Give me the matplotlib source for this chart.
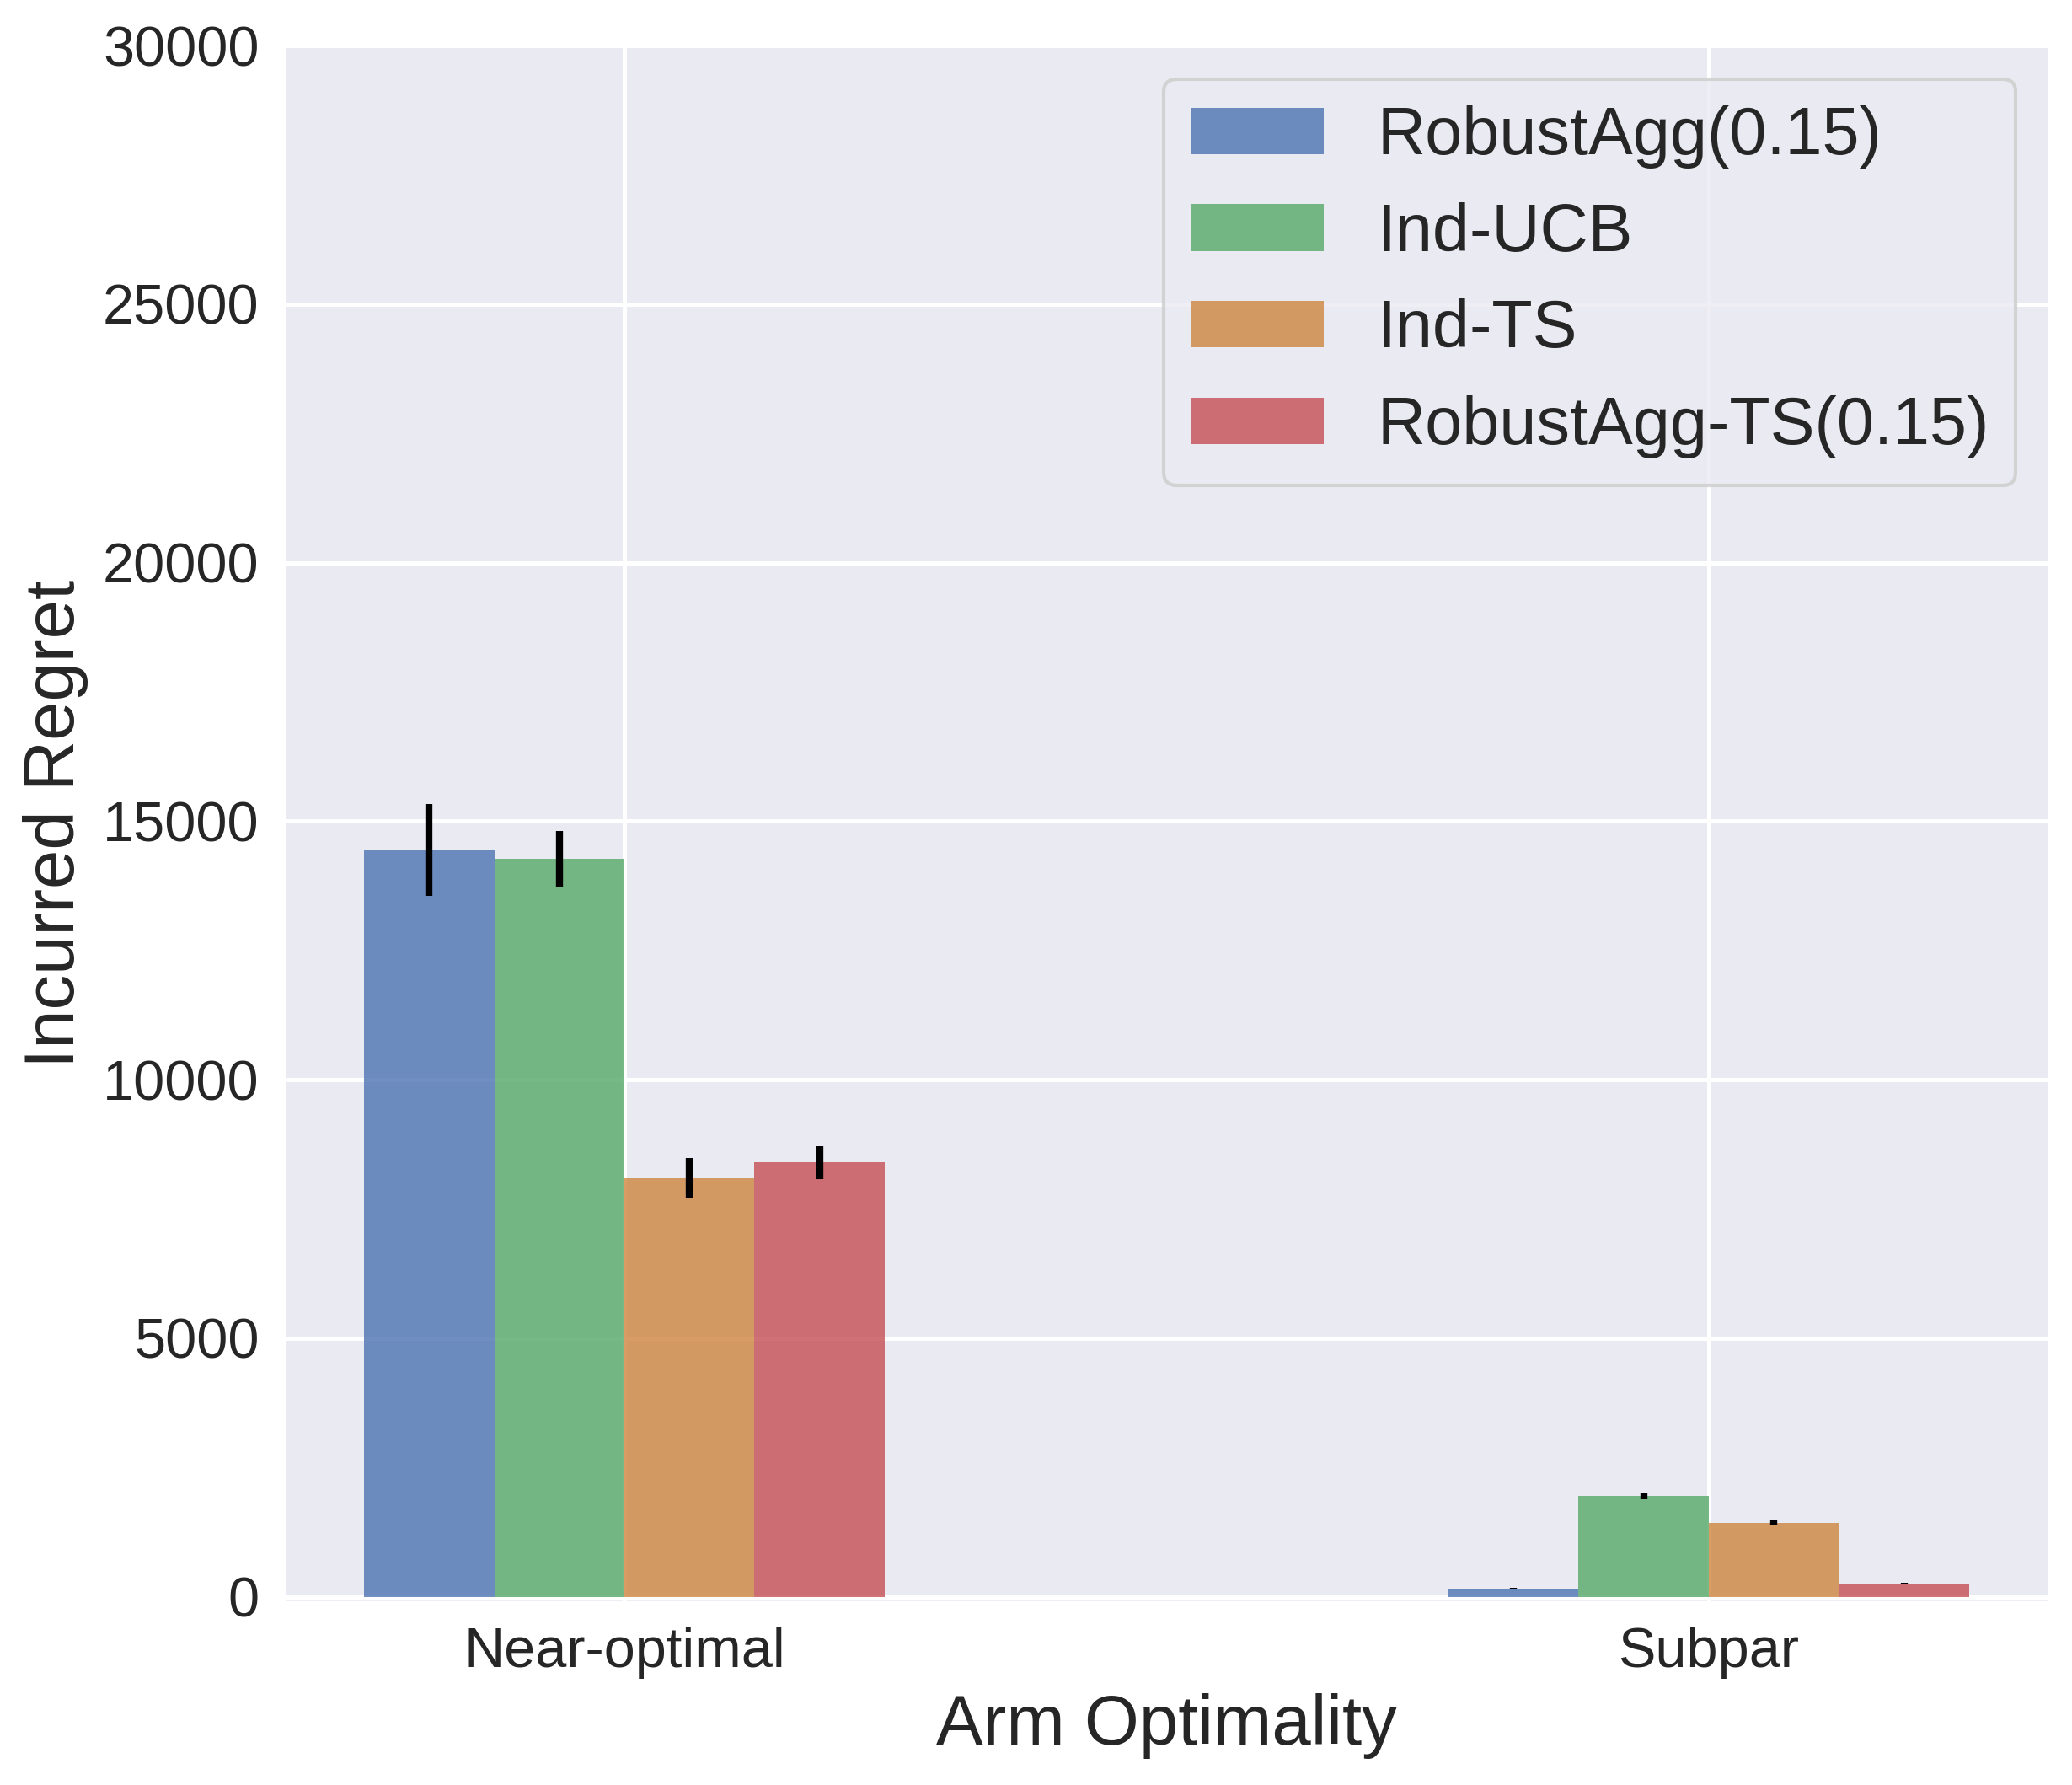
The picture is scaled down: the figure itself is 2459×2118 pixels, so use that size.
import numpy as np
import matplotlib
matplotlib.use("Agg")
import matplotlib.pyplot as plt
import seaborn as sns

categories = ["Near-optimal", "Subpar"]
methods = ["RobustAgg(0.15)", "Ind-UCB", "Ind-TS", "RobustAgg-TS(0.15)"]
regret = [
    [14450, 160],    # RobustAgg(0.15)
    [14270, 1956],   # Ind-UCB
    [8100, 1430],    # Ind-TS
    [8400, 256],     # RobustAgg-TS(0.15)
]
errors = [
    [890, 15],
    [545, 65],
    [395, 50],
    [312, 15],
]
colors = ["#4C72B0", "#55A868", "peru", "#C44E52"]

sns.set_style("darkgrid")
plt.rcParams['font.family'] = ['Liberation Sans', 'DejaVu Sans']
plt.rcParams['grid.linewidth'] = 1.2

fig = plt.figure(figsize=(2459 / 300, 2118 / 300), dpi=300)
ax = fig.add_axes([0.137, 0.1025, 0.852, 0.872])

x = np.arange(len(categories))
width = 0.12
for i, name in enumerate(methods):
    ax.bar(x + (i - 1.5) * width, regret[i], width, yerr=errors[i],
           color=colors[i], alpha=0.8, label=name, linewidth=0,
           error_kw=dict(ecolor='black', elinewidth=2))

ax.set_xticks(x)
ax.set_xticklabels(categories)
ax.set_ylim(-100, 30000)
ax.set_yticks(np.arange(0, 30001, 5000))
ax.tick_params(labelsize=16, colors='#262626')
ax.set_xlabel("Arm Optimality", fontsize=20, color='#262626')
ax.set_ylabel("Incurred Regret", fontsize=20, color='#262626')
ax.legend(loc='upper right', fontsize=19)

fig.savefig("out.png", dpi=300)
